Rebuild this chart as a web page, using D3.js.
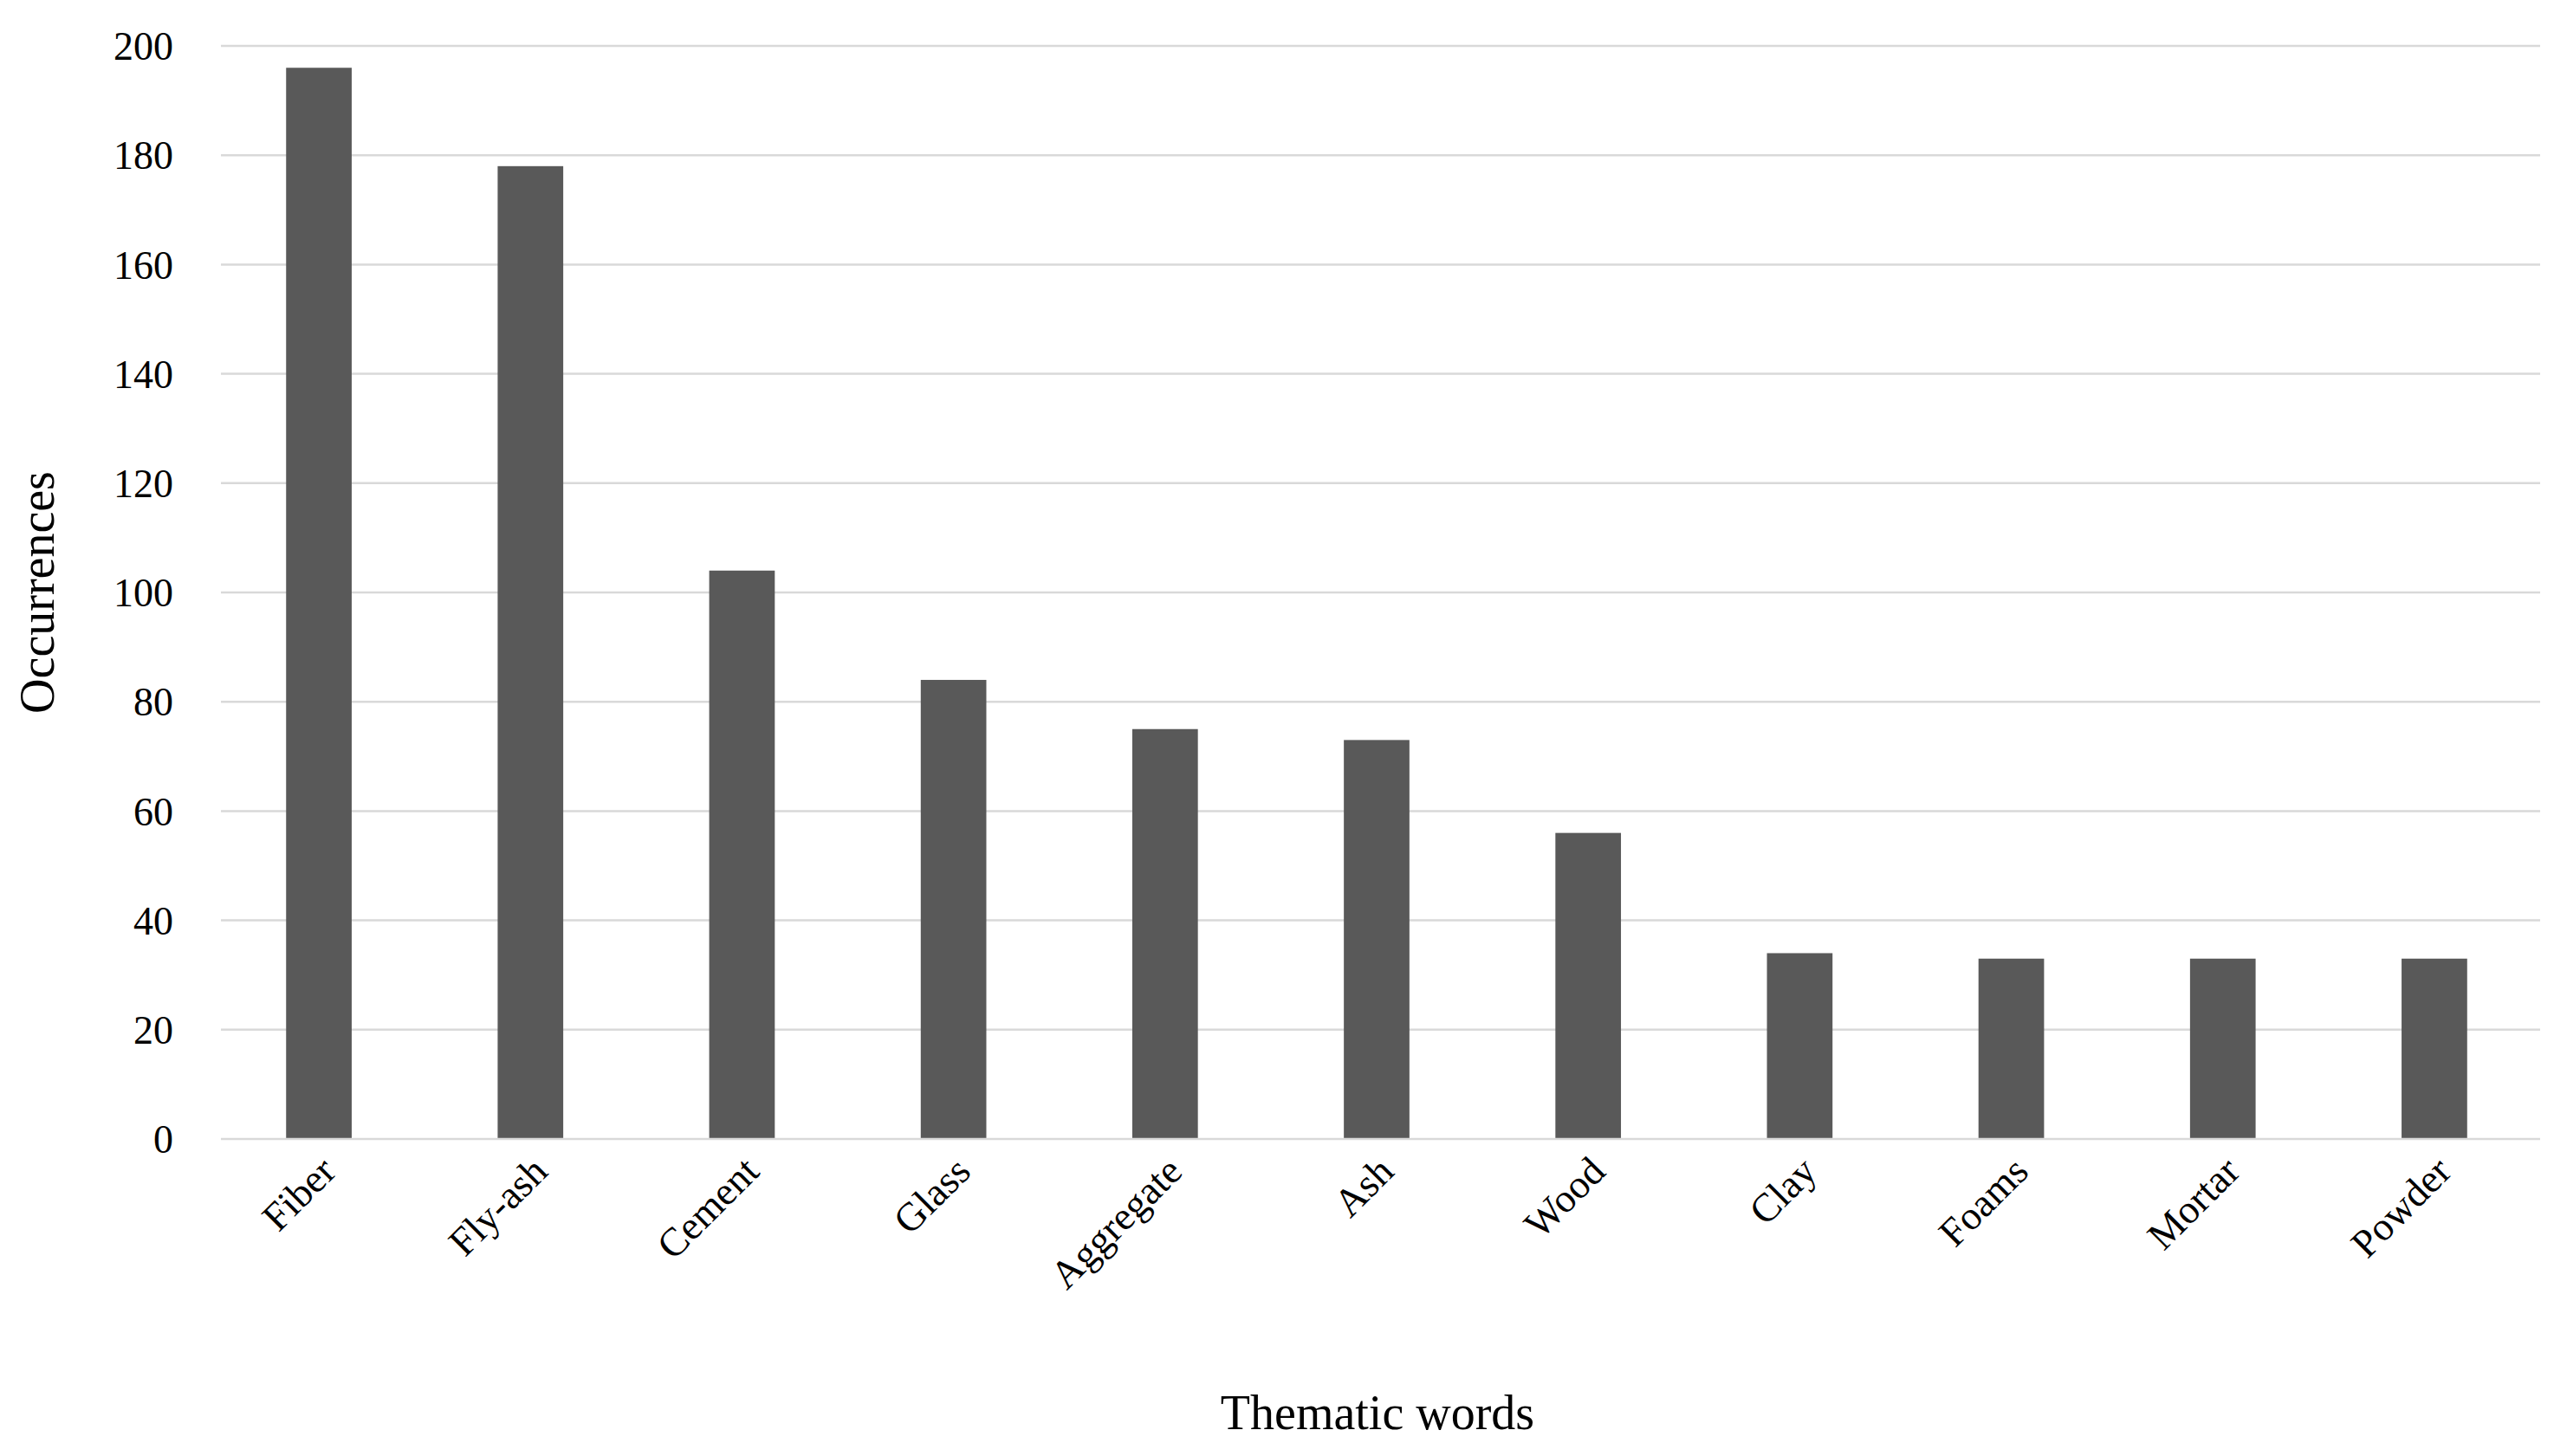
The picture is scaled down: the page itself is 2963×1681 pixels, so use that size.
<!DOCTYPE html>
<html>
<head>
<meta charset="utf-8">
<script src="https://d3js.org/d3.v7.min.js"></script>
<style>body{margin:0;background:#fff}</style>
</head>
<body>
<div id="chart"></div>
<script>
const categories = ["Fiber","Fly-ash","Cement","Glass","Aggregate","Ash","Wood","Clay","Foams","Mortar","Powder"];
const values = [196,178,104,84,75,73,56,34,33,33,33];
const yTicks = [0,20,40,60,80,100,120,140,160,180,200];

const W = 2963, H = 1681;
const svg = d3.select("#chart").append("svg").attr("width", W).attr("height", H)
  .style("font-family", "'Liberation Serif', 'Times New Roman', serif");

const x = d3.scaleBand().domain(categories).range([246, 2932]).paddingInner(0.69).paddingOuter(0.345);
const y = d3.scaleLinear().domain([0, 200]).range([1315, 53]);

// gridlines
svg.append("g").selectAll("line").data(yTicks.slice(1)).join("line")
  .attr("x1", 255).attr("x2", 2932)
  .attr("y1", d => y(d)).attr("y2", d => y(d))
  .attr("stroke", "#d9d9d9").attr("stroke-width", 2.5);

// y labels
svg.append("g").selectAll("text").data(yTicks).join("text")
  .attr("x", 200).attr("y", d => y(d)).attr("dy", "0.35em")
  .attr("text-anchor", "end").attr("font-size", 46).text(d => d);

// bars
svg.append("g").selectAll("rect").data(categories).join("rect")
  .attr("x", d => x(d)).attr("width", x.bandwidth())
  .attr("y", (d, i) => y(values[i])).attr("height", (d, i) => y(0) - y(values[i]))
  .attr("fill", "#595959");

// x axis line
svg.append("line").attr("x1", 255).attr("x2", 2932).attr("y1", y(0)).attr("y2", y(0))
  .attr("stroke", "#d9d9d9").attr("stroke-width", 2.5);

// x labels
svg.append("g").selectAll("text").data(categories).join("text")
  .attr("transform", d => `translate(${x(d) + x.bandwidth() / 2 + 22},${y(0) + 40}) rotate(-45)`)
  .attr("text-anchor", "end").attr("font-size", 46).text(d => d);

// axis titles
svg.append("text").attr("x", 1590).attr("y", 1650).attr("text-anchor", "middle")
  .attr("font-size", 56).text("Thematic words");
svg.append("text").attr("transform", `translate(62,${(y(0) + y(200)) / 2}) rotate(-90)`)
  .attr("text-anchor", "middle").attr("font-size", 56).text("Occurrences");
</script>
</body>
</html>
